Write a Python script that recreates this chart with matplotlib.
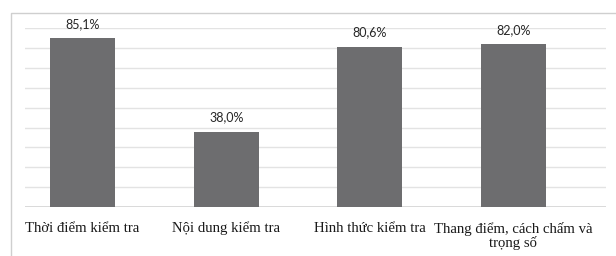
import matplotlib
matplotlib.use("Agg")
import matplotlib.pyplot as plt
from matplotlib.lines import Line2D

categories = ["Thời điểm kiểm tra", "Nội dung kiểm tra", "Hình thức kiểm tra",
              "Thang điểm, cách chấm và\ntrọng số"]
values = [85.1, 38.0, 80.6, 82.0]
value_labels = ["85,1%", "38,0%", "80,6%", "82,0%"]

W, H = 616, 256
fig = plt.figure(figsize=(W / 100, H / 100), dpi=100)
fig.patch.set_facecolor("white")

# outer chart border (left and top edges visible)
bx, by = 10.5 / W, 1 - 12.5 / H
fig.add_artist(Line2D([bx, bx, 1.0], [0.0, by, by], transform=fig.transFigure,
                      color="#cfcfcf", linewidth=1.0))

left, right, top, bottom = 25, 606, 28.3, 207
ax = fig.add_axes([left / W, 1 - bottom / H, (right - left) / W, (bottom - top) / H])
x = list(range(len(categories)))
ax.bar(x, values, width=0.453, color="#6d6d6f", zorder=3)
ax.set_xlim(-0.401, 3.645)
ax.set_ylim(0, 90)
ax.set_yticks(range(0, 100, 10))
ax.yaxis.grid(True, color="#e3e3e3", linewidth=1.0, zorder=0)
ax.axhline(0, color="#d4d4d4", linewidth=1.2, zorder=2)
ax.tick_params(axis="y", left=False, labelleft=False)
ax.tick_params(axis="x", bottom=False, pad=7)
for s in ax.spines.values():
    s.set_visible(False)
ax.set_xticks(x)
ax.set_xticklabels(categories, fontfamily="Liberation Serif", fontsize=10.6,
                   color="#1a1a1a", linespacing=1.05)
for xi, v, lab in zip(x, values, value_labels):
    ax.annotate(lab, (xi, v), xytext=(0, 6), textcoords="offset points",
                ha="center", va="bottom", fontfamily="Lato", fontsize=9,
                color="#262626")

fig.savefig("out.png", dpi=100)
